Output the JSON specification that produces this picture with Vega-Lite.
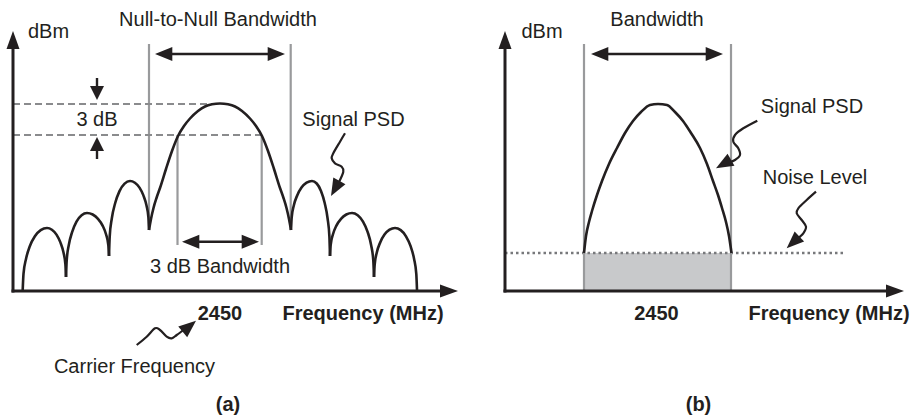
{
  "$schema": "https://vega.github.io/schema/vega-lite/v6.json",
  "width": 920,
  "height": 419,
  "autosize": {"type": "fit", "contains": "padding"},
  "padding": 0,
  "background": "white",
  "config": {"view": {"stroke": null}},
  "datasets": {
    "psd": [
      {"id":"L1","x":22.7,"y":290},{"id":"L1","x":23.5,"y":273.9},{"id":"L1","x":26,"y":259},{"id":"L1","x":29.8,"y":246.2},{"id":"L1","x":34.9,"y":236.3},{"id":"L1","x":40.7,"y":230.1},{"id":"L1","x":47,"y":228},{"id":"L1","x":51.9,"y":229.7},{"id":"L1","x":56.5,"y":234.6},{"id":"L1","x":60.4,"y":242.4},{"id":"L1","x":63.5,"y":252.5},{"id":"L1","x":65.4,"y":264.3},{"id":"L1","x":66,"y":277},
      {"id":"L2","x":66,"y":277},{"id":"L2","x":66.7,"y":260.4},{"id":"L2","x":68.8,"y":245},{"id":"L2","x":72.2,"y":231.8},{"id":"L2","x":76.5,"y":221.6},{"id":"L2","x":81.6,"y":215.2},{"id":"L2","x":87,"y":213},{"id":"L2","x":92.7,"y":214.5},{"id":"L2","x":98,"y":218.8},{"id":"L2","x":102.6,"y":225.6},{"id":"L2","x":106.1,"y":234.5},{"id":"L2","x":108.3,"y":244.9},{"id":"L2","x":109,"y":256},
      {"id":"L3","x":109,"y":256},{"id":"L3","x":109.7,"y":236.6},{"id":"L3","x":111.8,"y":218.5},{"id":"L3","x":115.2,"y":203},{"id":"L3","x":119.5,"y":191.1},{"id":"L3","x":124.6,"y":183.6},{"id":"L3","x":130,"y":181},{"id":"L3","x":134.9,"y":182.7},{"id":"L3","x":139.5,"y":187.6},{"id":"L3","x":143.4,"y":195.4},{"id":"L3","x":146.5,"y":205.5},{"id":"L3","x":148.4,"y":217.3},{"id":"L3","x":149,"y":230},
      {"id":"M","x":149,"y":230},{"id":"M","x":151,"y":219},{"id":"M","x":153.5,"y":208},{"id":"M","x":156.5,"y":198},{"id":"M","x":160,"y":188},{"id":"M","x":166,"y":169},{"id":"M","x":172,"y":151},{"id":"M","x":178,"y":136},{"id":"M","x":184,"y":126},{"id":"M","x":190,"y":118.5},{"id":"M","x":198,"y":111},{"id":"M","x":205,"y":106.5},{"id":"M","x":212,"y":104.3},{"id":"M","x":220,"y":103.5},{"id":"M","x":228,"y":104.3},{"id":"M","x":235,"y":106.5},{"id":"M","x":242,"y":111},{"id":"M","x":250,"y":118.5},{"id":"M","x":256,"y":126},{"id":"M","x":262,"y":136},{"id":"M","x":268,"y":151},{"id":"M","x":274,"y":169},{"id":"M","x":280,"y":188},{"id":"M","x":283.5,"y":198},{"id":"M","x":286.5,"y":208},{"id":"M","x":289,"y":219},{"id":"M","x":291,"y":230},
      {"id":"R1","x":291,"y":230},{"id":"R1","x":291.7,"y":217.3},{"id":"R1","x":293.8,"y":205.5},{"id":"R1","x":297.2,"y":195.4},{"id":"R1","x":301.5,"y":187.6},{"id":"R1","x":306.6,"y":182.7},{"id":"R1","x":312,"y":181},{"id":"R1","x":316.7,"y":183.5},{"id":"R1","x":321,"y":191},{"id":"R1","x":324.7,"y":203},{"id":"R1","x":327.6,"y":218.5},{"id":"R1","x":329.4,"y":236.6},{"id":"R1","x":330,"y":256},
      {"id":"R2","x":330,"y":256},{"id":"R2","x":330.7,"y":244.9},{"id":"R2","x":332.9,"y":234.5},{"id":"R2","x":336.4,"y":225.6},{"id":"R2","x":341,"y":218.8},{"id":"R2","x":346.3,"y":214.5},{"id":"R2","x":352,"y":213},{"id":"R2","x":357.7,"y":215.2},{"id":"R2","x":363,"y":221.6},{"id":"R2","x":367.6,"y":231.8},{"id":"R2","x":371.1,"y":245},{"id":"R2","x":373.3,"y":260.4},{"id":"R2","x":374,"y":277},
      {"id":"R3","x":374,"y":277},{"id":"R3","x":374.7,"y":264.3},{"id":"R3","x":376.8,"y":252.5},{"id":"R3","x":380.2,"y":242.4},{"id":"R3","x":384.5,"y":234.6},{"id":"R3","x":389.6,"y":229.7},{"id":"R3","x":395,"y":228},{"id":"R3","x":400.7,"y":230.1},{"id":"R3","x":406,"y":236.3},{"id":"R3","x":410.6,"y":246.2},{"id":"R3","x":414.1,"y":259},{"id":"R3","x":416.3,"y":273.9},{"id":"R3","x":417,"y":290},
      {"id":"B","x":584,"y":253},{"id":"B","x":586,"y":236},{"id":"B","x":589,"y":222},{"id":"B","x":592,"y":211},{"id":"B","x":597,"y":195},{"id":"B","x":602,"y":181},{"id":"B","x":609,"y":164},{"id":"B","x":617,"y":148},{"id":"B","x":625,"y":133},{"id":"B","x":633,"y":121},{"id":"B","x":641,"y":112},{"id":"B","x":650,"y":105},{"id":"B","x":658,"y":104},{"id":"B","x":667,"y":105},{"id":"B","x":675,"y":112},{"id":"B","x":683,"y":121},{"id":"B","x":691,"y":133},{"id":"B","x":700,"y":148},{"id":"B","x":707,"y":164},{"id":"B","x":713,"y":181},{"id":"B","x":718,"y":195},{"id":"B","x":722,"y":208},{"id":"B","x":726,"y":222},{"id":"B","x":729,"y":236},{"id":"B","x":731.5,"y":253}
    ],
    "squig": [
      {"id":"SA","i":0,"x":345,"y":133.3},{"id":"SA","i":1,"x":340,"y":141.7},{"id":"SA","i":2,"x":333.3,"y":153.3},{"id":"SA","i":3,"x":331.7,"y":158.3},{"id":"SA","i":4,"x":335,"y":163.3},{"id":"SA","i":5,"x":341.7,"y":166.7},{"id":"SA","i":6,"x":343.3,"y":171.7},{"id":"SA","i":7,"x":339,"y":182},
      {"id":"SC","i":0,"x":136.7,"y":345},{"id":"SC","i":1,"x":146.7,"y":336.7},{"id":"SC","i":2,"x":155,"y":328.3},{"id":"SC","i":3,"x":160,"y":330},{"id":"SC","i":4,"x":166.7,"y":336.7},{"id":"SC","i":5,"x":171.7,"y":338.3},{"id":"SC","i":6,"x":176.7,"y":335},{"id":"SC","i":7,"x":186,"y":328},
      {"id":"SB","i":0,"x":757.3,"y":120.7},{"id":"SB","i":1,"x":743.3,"y":128.3},{"id":"SB","i":2,"x":735,"y":135},{"id":"SB","i":3,"x":733.3,"y":141.7},{"id":"SB","i":4,"x":738.3,"y":148.3},{"id":"SB","i":5,"x":740,"y":155},{"id":"SB","i":6,"x":735,"y":160},{"id":"SB","i":7,"x":728,"y":163},
      {"id":"SN","i":0,"x":816,"y":191.7},{"id":"SN","i":1,"x":806.7,"y":200},{"id":"SN","i":2,"x":798.3,"y":208.3},{"id":"SN","i":3,"x":796.7,"y":213.3},{"id":"SN","i":4,"x":801.7,"y":220},{"id":"SN","i":5,"x":806,"y":226.7},{"id":"SN","i":6,"x":803.3,"y":233.3},{"id":"SN","i":7,"x":797,"y":239}
    ],
    "heads": [
      {"x":155,"y":54,"heading":270},{"x":285,"y":54,"heading":90},
      {"x":182,"y":241.7,"heading":270},{"x":259,"y":241.7,"heading":90},
      {"x":591,"y":54,"heading":270},{"x":723,"y":54,"heading":90},
      {"x":331,"y":196,"heading":209},{"x":196,"y":320.7,"heading":50},
      {"x":716,"y":168.3,"heading":240},{"x":786.7,"y":248.3,"heading":227}
    ],
    "heads3db": [
      {"x":97,"y":100,"heading":180},{"x":97,"y":137,"heading":0}
    ],
    "axisheads": [
      {"x":13,"y":31,"heading":0},{"x":458,"y":291,"heading":90},
      {"x":505,"y":31,"heading":0},{"x":904,"y":291,"heading":90}
    ],
    "shafts": [
      {"x":160,"x2":280,"y":54,"y2":54},
      {"x":187,"x2":254,"y":241.7,"y2":241.7},
      {"x":596,"x2":718,"y":54,"y2":54},
      {"x":97,"x2":97,"y":78,"y2":92},
      {"x":97,"x2":97,"y":145,"y2":159}
    ],
    "axes": [
      {"x":13,"x2":13,"y":42,"y2":292.5},
      {"x":11.5,"x2":448,"y":291,"y2":291},
      {"x":505,"x2":505,"y":42,"y2":292.5},
      {"x":503.5,"x2":894,"y":291,"y2":291}
    ],
    "guides": [
      {"x":149,"x2":149,"y":44,"y2":230},
      {"x":290.7,"x2":290.7,"y":44,"y2":230},
      {"x":177.5,"x2":177.5,"y":135,"y2":245},
      {"x":261.7,"x2":261.7,"y":135,"y2":245},
      {"x":584,"x2":584,"y":44,"y2":291},
      {"x":731,"x2":731,"y":44,"y2":291}
    ],
    "dashed": [
      {"x":13,"x2":213,"y":104,"y2":104},
      {"x":13,"x2":262,"y":135,"y2":135}
    ],
    "noise": [
      {"x":505,"x2":843,"y":253,"y2":253}
    ],
    "shade": [
      {"x":584,"x2":731,"y":253,"y2":291}
    ],
    "labels": [
      {"label":"dBm","x":48.5,"y":38,"bold":false},
      {"label":"Null-to-Null Bandwidth","x":218,"y":26,"bold":false},
      {"label":"3 dB","x":97,"y":126,"bold":false},
      {"label":"Signal PSD","x":353.5,"y":126,"bold":false},
      {"label":"3 dB Bandwidth","x":220,"y":273,"bold":false},
      {"label":"Carrier Frequency","x":134.5,"y":373,"bold":false},
      {"label":"dBm","x":542,"y":38,"bold":false},
      {"label":"Bandwidth","x":657,"y":26,"bold":false},
      {"label":"Signal PSD","x":812,"y":113,"bold":false},
      {"label":"Noise Level","x":815,"y":184,"bold":false},
      {"label":"2450","x":220,"y":320,"bold":true},
      {"label":"Frequency (MHz)","x":363,"y":320,"bold":true},
      {"label":"2450","x":656.5,"y":320,"bold":true},
      {"label":"Frequency (MHz)","x":829,"y":320,"bold":true},
      {"label":"(a)","x":228,"y":411,"bold":true},
      {"label":"(b)","x":698.5,"y":411,"bold":true}
    ]
  },
  "layer": [
    {
      "data": {"name": "shade"},
      "mark": {"type": "rect", "color": "#c8c9cb"},
      "encoding": {
        "x": {"field": "x", "type": "quantitative", "scale": {"domain": [0, 920], "nice": false, "zero": false}, "axis": null},
        "x2": {"field": "x2"},
        "y": {"field": "y", "type": "quantitative", "scale": {"domain": [0, 419], "nice": false, "zero": false, "reverse": true}, "axis": null},
        "y2": {"field": "y2"}
      }
    },
    {
      "data": {"name": "noise"},
      "mark": {"type": "rule", "color": "#77787b", "strokeWidth": 2.5, "strokeDash": [2.5, 3]},
      "encoding": {
        "x": {"field": "x", "type": "quantitative", "axis": null},
        "x2": {"field": "x2"},
        "y": {"field": "y", "type": "quantitative", "axis": null},
        "y2": {"field": "y2"}
      }
    },
    {
      "data": {"name": "guides"},
      "mark": {"type": "rule", "color": "#999a9c", "strokeWidth": 2.2},
      "encoding": {
        "x": {"field": "x", "type": "quantitative", "axis": null},
        "x2": {"field": "x2"},
        "y": {"field": "y", "type": "quantitative", "axis": null},
        "y2": {"field": "y2"}
      }
    },
    {
      "data": {"name": "dashed"},
      "mark": {"type": "rule", "color": "#8a8b8d", "strokeWidth": 2, "strokeDash": [7, 4]},
      "encoding": {
        "x": {"field": "x", "type": "quantitative", "axis": null},
        "x2": {"field": "x2"},
        "y": {"field": "y", "type": "quantitative", "axis": null},
        "y2": {"field": "y2"}
      }
    },
    {
      "data": {"name": "psd"},
      "mark": {"type": "line", "color": "#231f20", "strokeWidth": 2.6, "interpolate": "monotone"},
      "encoding": {
        "x": {"field": "x", "type": "quantitative", "axis": null},
        "y": {"field": "y", "type": "quantitative", "axis": null},
        "detail": {"field": "id", "type": "nominal"}
      }
    },
    {
      "data": {"name": "squig"},
      "mark": {"type": "line", "color": "#231f20", "strokeWidth": 2.2, "interpolate": "cardinal"},
      "encoding": {
        "x": {"field": "x", "type": "quantitative", "axis": null},
        "y": {"field": "y", "type": "quantitative", "axis": null},
        "detail": {"field": "id", "type": "nominal"},
        "order": {"field": "i", "type": "quantitative"}
      }
    },
    {
      "data": {"name": "axes"},
      "mark": {"type": "rule", "color": "#231f20", "strokeWidth": 3},
      "encoding": {
        "x": {"field": "x", "type": "quantitative", "axis": null},
        "x2": {"field": "x2"},
        "y": {"field": "y", "type": "quantitative", "axis": null},
        "y2": {"field": "y2"}
      }
    },
    {
      "data": {"name": "shafts"},
      "mark": {"type": "rule", "color": "#231f20", "strokeWidth": 2.4},
      "encoding": {
        "x": {"field": "x", "type": "quantitative", "axis": null},
        "x2": {"field": "x2"},
        "y": {"field": "y", "type": "quantitative", "axis": null},
        "y2": {"field": "y2"}
      }
    },
    {
      "data": {"name": "heads"},
      "mark": {"type": "point", "shape": "M0,0L0.4,1L-0.4,1Z", "filled": true, "color": "#231f20", "opacity": 1, "size": 1200, "strokeWidth": 0},
      "encoding": {
        "x": {"field": "x", "type": "quantitative", "axis": null},
        "y": {"field": "y", "type": "quantitative", "axis": null},
        "angle": {"field": "heading", "type": "quantitative", "scale": {"domain": [0, 360], "range": [0, 360]}, "legend": null}
      }
    },
    {
      "data": {"name": "heads3db"},
      "mark": {"type": "point", "shape": "M0,0L0.5,1L-0.5,1Z", "filled": true, "color": "#231f20", "opacity": 1, "size": 784, "strokeWidth": 0},
      "encoding": {
        "x": {"field": "x", "type": "quantitative", "axis": null},
        "y": {"field": "y", "type": "quantitative", "axis": null},
        "angle": {"field": "heading", "type": "quantitative", "scale": {"domain": [0, 360], "range": [0, 360]}, "legend": null}
      }
    },
    {
      "data": {"name": "axisheads"},
      "mark": {"type": "point", "shape": "M0,0L0.36,1L-0.36,1Z", "filled": true, "color": "#231f20", "opacity": 1, "size": 1300, "strokeWidth": 0},
      "encoding": {
        "x": {"field": "x", "type": "quantitative", "axis": null},
        "y": {"field": "y", "type": "quantitative", "axis": null},
        "angle": {"field": "heading", "type": "quantitative", "scale": {"domain": [0, 360], "range": [0, 360]}, "legend": null}
      }
    },
    {
      "data": {"name": "labels"},
      "transform": [{"filter": "!datum.bold"}],
      "mark": {"type": "text", "font": "Liberation Sans", "fontSize": 20, "color": "#231f20", "align": "center", "baseline": "alphabetic"},
      "encoding": {
        "x": {"field": "x", "type": "quantitative", "axis": null},
        "y": {"field": "y", "type": "quantitative", "axis": null},
        "text": {"field": "label"}
      }
    },
    {
      "data": {"name": "labels"},
      "transform": [{"filter": "datum.bold"}],
      "mark": {"type": "text", "font": "Liberation Sans", "fontSize": 20, "fontWeight": "bold", "color": "#231f20", "align": "center", "baseline": "alphabetic"},
      "encoding": {
        "x": {"field": "x", "type": "quantitative", "axis": null},
        "y": {"field": "y", "type": "quantitative", "axis": null},
        "text": {"field": "label"}
      }
    }
  ]
}
